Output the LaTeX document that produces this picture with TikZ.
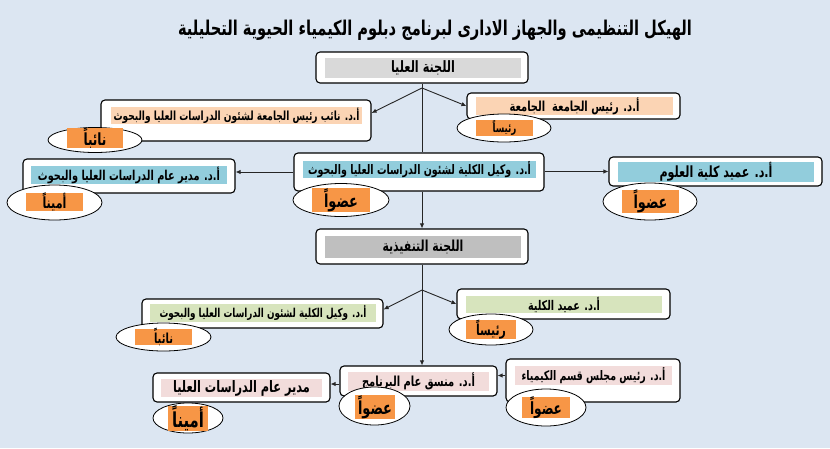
\documentclass[tikz,border=0pt]{standalone}
\usepackage{fontspec}
\TeXXeTstate=1
\newfontfamily\arabicfont[Script=Arabic,FakeStretch=0.72]{DejaVu Sans}
\usetikzlibrary{shapes.geometric,arrows.meta}
\definecolor{bgc}{HTML}{DCE6F2}
\definecolor{grayA}{HTML}{D9D9D9}
\definecolor{grayB}{HTML}{BFBFBF}
\definecolor{peach}{HTML}{FBD4B4}
\definecolor{blueF}{HTML}{92CDDC}
\definecolor{greenF}{HTML}{D7E4BD}
\definecolor{pinkF}{HTML}{F2DCDB}
\definecolor{orangeF}{HTML}{F79646}
\newlength\arwidth
% #1 = target width in pt, #2 = text (already wrapped in \beginR ... \endR)
\newcommand{\AR}[2]{%
  \settowidth\arwidth{\fontsize{10pt}{12pt}\selectfont\arabicfont\bfseries #2}%
  \pgfmathsetmacro\arsize{10*#1/\arwidth}%
  {\fontsize{\arsize pt}{\arsize pt}\selectfont\arabicfont\bfseries #2}}
\tikzset{
  outer/.style={draw=black, line width=1.1pt, rounded corners=4pt, fill=white, inner sep=0pt},
  inner/.style={inner sep=0pt, anchor=center},
  oval/.style={ellipse, draw=black, line width=0.8pt, fill=white, inner sep=0pt},
  tag/.style={fill=orangeF, inner sep=0pt},
  conn/.style={line width=0.9pt, draw=black!85, -{Latex[length=5pt,width=4.5pt]}},
  plain/.style={line width=0.9pt, draw=black!85}
}
\begin{document}
\begin{tikzpicture}[x=1pt,y=-1pt]
\fill[bgc] (0,0) rectangle (830,448);
\useasboundingbox (0,0) rectangle (830,448);

% title
\node[inner] (title) at (435,30) {\AR{514}{\beginR الهيكل التنظيمى والجهاز الادارى لبرنامج دبلوم الكيمياء الحيوية التحليلية\endR}};

% top committee
\node[outer, minimum width=212pt, minimum height=31pt] (b1) at (422,67.5) {};
\node[inner, fill=grayA, minimum width=196pt, minimum height=20pt] (b1t) at (423,68) {\AR{64}{\beginR اللجنة العليا\endR}};

% president
\node[outer, minimum width=213pt, minimum height=26pt] (b2) at (573.5,106) {};
\node[inner, fill=peach, minimum width=197pt, minimum height=16pt] (b2t) at (574.5,106) {\AR{130}{\beginR أ.د. رئيس الجامعة\ \ الجامعة\endR}};
\node[oval, minimum width=94pt, minimum height=28pt] (e2) at (504,128) {};
\node[tag, minimum width=57pt, minimum height=12pt] (e2t) at (504.5,128) {\AR{24}{\beginR رئيساً\endR}};

% vice president
\node[outer, minimum width=270pt, minimum height=41pt] (b3) at (236,120.5) {};
\node[inner, fill=peach, minimum width=251pt, minimum height=17pt] (b3t) at (236.5,115.5) {\AR{246}{\beginR أ.د. نائب رئيس الجامعة لشئون الدراسات العليا والبحوث\endR}};
\node[oval, minimum width=94pt, minimum height=25pt] (e3) at (95,140) {};
\node[tag, minimum width=56pt, minimum height=14pt] (e3t) at (95,138) {\AR{23}{\beginR نائباً\endR}};

% vice dean (blue)
\node[outer, minimum width=250pt, minimum height=38pt] (b4) at (419,172) {};
\node[inner, fill=blueF, minimum width=233pt, minimum height=17pt] (b4t) at (419.5,169.5) {\AR{223}{\beginR أ.د. وكيل الكلية لشئون الدراسات العليا والبحوث\endR}};
\node[oval, minimum width=96pt, minimum height=33pt] (e4) at (341,200) {};
\node[tag, minimum width=58pt, minimum height=16pt] (e4t) at (341,200) {\AR{34}{\beginR عضواً\endR}};

% general director
\node[outer, minimum width=212pt, minimum height=34pt] (b5) at (129,176) {};
\node[inner, fill=blueF, minimum width=196pt, minimum height=18pt] (b5t) at (129,175) {\AR{182}{\beginR أ.د. مدير عام الدراسات العليا والبحوث\endR}};
\node[oval, minimum width=95pt, minimum height=35pt] (e5) at (54.5,202.5) {};
\node[tag, minimum width=57pt, minimum height=18pt] (e5t) at (54.5,202) {\AR{24}{\beginR أميناً\endR}};

% dean of science
\node[outer, minimum width=213pt, minimum height=29pt] (b6) at (715.5,171.5) {};
\node[inner, fill=blueF, minimum width=196pt, minimum height=18pt] (b6t) at (716,172) {\AR{113}{\beginR أ.د. عميد كلية العلوم\endR}};
\node[oval, minimum width=94pt, minimum height=37pt] (e6) at (650,201.5) {};
\node[tag, minimum width=57pt, minimum height=19pt] (e6t) at (650.5,201.5) {\AR{34}{\beginR عضواً\endR}};

% executive committee
\node[outer, minimum width=212pt, minimum height=35pt] (b7) at (422,246.5) {};
\node[inner, fill=grayB, minimum width=196pt, minimum height=22pt] (b7t) at (423,247) {\AR{81}{\beginR اللجنة التنفيذية\endR}};

% vice dean (green)
\node[outer, minimum width=241pt, minimum height=29pt] (b8) at (262.5,313.5) {};
\node[inner, fill=greenF, minimum width=226pt, minimum height=18pt] (b8t) at (263,313) {\AR{207}{\beginR أ.د. وكيل الكلية لشئون الدراسات العليا والبحوث\endR}};
\node[oval, minimum width=95pt, minimum height=28pt] (e8) at (163.5,337) {};
\node[tag, minimum width=57pt, minimum height=12pt] (e8t) at (163.5,337) {\AR{19}{\beginR نائباً\endR}};

% dean of faculty
\node[outer, minimum width=213pt, minimum height=30pt] (b9) at (563.5,304) {};
\node[inner, fill=greenF, minimum width=196pt, minimum height=17pt] (b9t) at (564,304.5) {\AR{72}{\beginR أ.د. عميد الكلية\endR}};
\node[oval, minimum width=84pt, minimum height=31pt] (e9) at (491,329.5) {};
\node[tag, minimum width=50pt, minimum height=15pt] (e9t) at (491,329.5) {\AR{30}{\beginR رئيساً\endR}};

% program coordinator
\node[outer, minimum width=157pt, minimum height=30pt] (b10) at (418.5,381) {};
\node[inner, fill=pinkF, minimum width=141pt, minimum height=19pt] (b10t) at (418.5,381.5) {\AR{113}{\beginR أ.د. منسق عام البرنامج\endR}};
\node[oval, minimum width=71pt, minimum height=38pt] (e10) at (374.5,406) {};
\node[tag, minimum width=40pt, minimum height=20pt] (e10t) at (375,407) {\AR{34}{\beginR عضواً\endR}};

% chemistry department head
\node[outer, minimum width=174pt, minimum height=43pt] (b11) at (593,380.5) {};
\node[inner, fill=pinkF, minimum width=157pt, minimum height=19pt] (b11t) at (593.5,375.5) {\AR{144}{\beginR أ.د. رئيس مجلس قسم الكيمياء\endR}};
\node[oval, minimum width=80pt, minimum height=37pt] (e11) at (546,407.5) {};
\node[tag, minimum width=48pt, minimum height=19pt] (e11t) at (546,407.5) {\AR{32}{\beginR عضواً\endR}};

% general director (bottom)
\node[outer, minimum width=177pt, minimum height=29pt] (b12) at (241.5,387.5) {};
\node[inner, fill=pinkF, minimum width=161pt, minimum height=18pt] (b12t) at (241.5,388) {\AR{137}{\beginR مدير عام الدراسات العليا\endR}};
\node[oval, minimum width=70pt, minimum height=30pt] (e12) at (188,418) {};
\node[tag, minimum width=40pt, minimum height=14pt] (e12t) at (188,418) {\AR{32}{\beginR أميناً\endR}};

% junctions
\coordinate (j1) at (422,88);
\coordinate (j2) at (422,290);

% connectors
\draw[plain] (b1.south) -- (j1);
\draw[plain] (j1) -- (j1 |- b4.north);
\draw[conn] (j1) -- (b2.west);
\draw[conn] (j1) -- ([yshift=7.5pt]b3.east);
\draw[conn] (b4.west) -- (b4.west -| b5.east);
\draw[conn] (b6.west -| b4.east) -- (b6.west);
\draw[conn] (b7.north |- b4.south) -- (b7.north);
\draw[plain] (b7.south) -- (j2);
\draw[conn] (j2) -- (b9.west);
\draw[conn] (j2) -- ([yshift=4pt]b8.east);
\draw[conn] (j2) -- (j2 |- b10.north);
\draw[conn] ([yshift=5pt]b11.west) -- ([yshift=5pt]b11.west -| b10.east);
\draw[conn] ([yshift=-3pt]b10.west) -- ([yshift=-3pt]b10.west -| b12.east);
\end{tikzpicture}
\end{document}
